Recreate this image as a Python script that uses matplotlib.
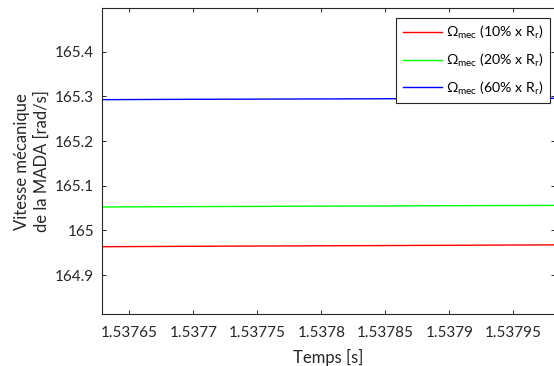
#!/usr/bin/env python3

import matplotlib
matplotlib.use("Agg")
import matplotlib.pyplot as plt

# data
temps = [1.53762, 1.53770, 1.53780, 1.53790, 1.53800]
omega_10 = [164.9634, 164.9645, 164.9656, 164.9667, 164.9679]
omega_20 = [165.0523, 165.0533, 165.0543, 165.0553, 165.0562]
omega_60 = [165.2925, 165.2934, 165.2942, 165.2950, 165.2958]

labels = [r'$\Omega_{\mathrm{mec}}$ (10% x R$_{\mathrm{r}}$)',
          r'$\Omega_{\mathrm{mec}}$ (20% x R$_{\mathrm{r}}$)',
          r'$\Omega_{\mathrm{mec}}$ (60% x R$_{\mathrm{r}}$)']
xticks = [1.53765, 1.53770, 1.53775, 1.53780, 1.53785, 1.53790, 1.53795]
xticklabels = ['1.53765', '1.5377', '1.53775', '1.5378', '1.53785', '1.5379', '1.53795']
yticks = [164.9, 165.0, 165.1, 165.2, 165.3, 165.4]
yticklabels = ['164.9', '165', '165.1', '165.2', '165.3', '165.4']

plt.rcParams['font.family'] = ['Lato', 'DejaVu Sans']
plt.rcParams['mathtext.fontset'] = 'custom'
plt.rcParams['mathtext.rm'] = 'Lato'
plt.rcParams['mathtext.it'] = 'Lato:italic'
plt.rcParams['mathtext.bf'] = 'Lato:bold'

dark = '#262626'

fig = plt.figure(figsize=(5.54, 3.66), dpi=100)
ax = fig.add_axes([0.1847, 0.1421, 1.0018 - 0.1847, 0.9773 - 0.1421])

ax.plot(temps, omega_10, color='#ff0000', lw=1.0, label=labels[0])
ax.plot(temps, omega_20, color='#00ff00', lw=1.0, label=labels[1])
ax.plot(temps, omega_60, color='#0000ff', lw=1.0, label=labels[2])

ax.set_xlim(1.5376289, 1.5379826)
ax.set_ylim(164.813, 165.497)
ax.set_xticks(xticks)
ax.set_xticklabels(xticklabels)
ax.set_yticks(yticks)
ax.set_yticklabels(yticklabels)

ax.tick_params(direction='in', length=3, width=0.7, colors=dark,
               labelsize=11, top=True, right=True, pad=6)
ax.tick_params(axis='x', pad=9)
for s in ax.spines.values():
    s.set_color(dark)
    s.set_linewidth(0.8)

ax.set_xlabel('Temps [s]', fontsize=12, color=dark, labelpad=6)
ax.set_ylabel('Vitesse mécanique\nde la MADA [rad/s]', fontsize=12,
              color=dark, labelpad=4, linespacing=1.25)

leg = ax.legend(loc='upper right', bbox_to_anchor=(0.9885, 0.9695),
                fontsize=10.2, handlelength=2.75, handletextpad=0.3,
                labelspacing=0.75, borderpad=0.45, fancybox=False,
                framealpha=1, edgecolor=dark, borderaxespad=0)
leg.get_frame().set_linewidth(0.8)

fig.savefig('out.png', dpi=100)
